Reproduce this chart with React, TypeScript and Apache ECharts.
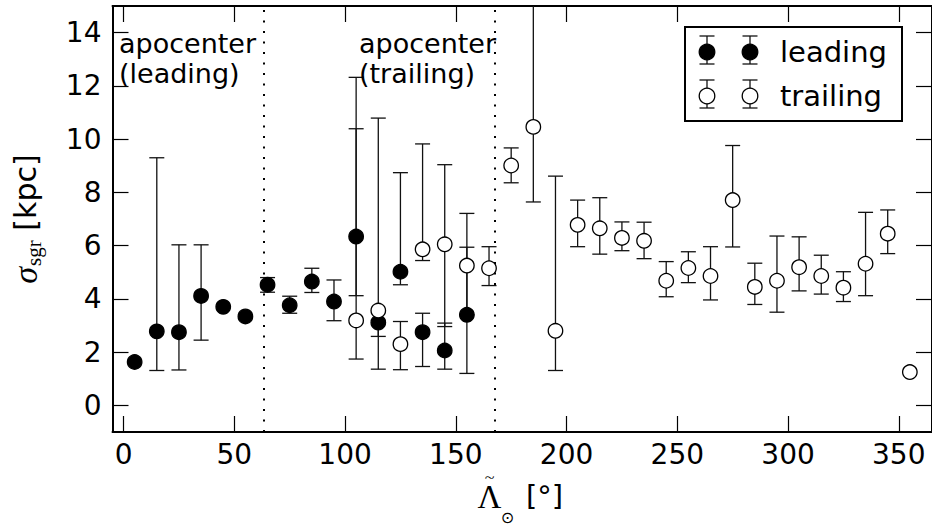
import React, { useEffect, useRef } from "react";
import * as echarts from "echarts";

// Stream longitude bins (deg) and fitted stream width sigma_sgr (kpc)
const lambdaLeading = [5, 15, 25, 35, 45, 55, 65, 75, 85, 95, 105, 115, 125, 135, 145, 155];
const sigmaLeading = [1.63, 2.78, 2.75, 4.11, 3.7, 3.34, 4.53, 3.76, 4.65, 3.9, 6.34, 3.11, 5.02, 2.75, 2.06, 3.4];
const lowLeading = [null, 1.31, 1.33, 2.45, null, null, 4.25, 3.46, 4.24, 3.18, 4.12, 2.59, 4.53, 1.46, 1.36, 1.2];
const highLeading = [null, 9.3, 6.03, 6.03, null, null, 4.8, 4.1, 5.15, 4.71, 10.39, 3.2, 8.74, 3.46, 3.09, 5.94];

const lambdaTrailing = [
  105, 115, 125, 135, 145, 155, 165, 175, 185, 195, 205, 215, 225, 235, 245, 255, 265, 275, 285, 295,
  305, 315, 325, 335, 345, 355,
];
const sigmaTrailing = [
  3.19, 3.56, 2.3, 5.86, 6.05, 5.25, 5.15, 9.01, 10.46, 2.8, 6.78, 6.65, 6.29, 6.18, 4.68, 5.16, 4.86,
  7.71, 4.45, 4.68, 5.19, 4.86, 4.42, 5.32, 6.45, 1.25,
];
const lowTrailing = [
  1.74, 1.36, 1.34, 5.44, 2.96, 3.4, 4.5, 8.36, 7.64, 1.31, 5.96, 5.68, 5.81, 5.51, 4.08, 4.61, 3.96,
  5.95, 3.79, 3.5, 4.3, 4.18, 3.9, 4.12, 5.7, null,
];
const highTrailing = [
  12.32, 10.79, 3.15, 9.82, 9.04, 7.21, 5.96, 9.67, 16.5, 8.61, 7.71, 7.8, 6.89, 6.88, 5.4, 5.77, 5.96,
  9.76, 5.34, 6.36, 6.33, 5.64, 5.02, 7.25, 7.34, null,
];

// Apocenter positions of the two arms (deg)
const apocenters = [63.1, 167.4];
const apocenterLabels = ["apocenter\n(leading)", "apocenter\n(trailing)"];

const xTicks = [0, 50, 100, 150, 200, 250, 300, 350];
const yTicks = [0, 2, 4, 6, 8, 10, 12, 14];
const legendNames = ["leading", "trailing"];

const SANS = "DejaVu Sans";
const SERIF = "Liberation Serif";
const CAP = 7.5;

function errorRows(xs: number[], lo: (number | null)[], hi: (number | null)[]) {
  const rows: number[][] = [];
  xs.forEach((x, i) => {
    const l = lo[i];
    const h = hi[i];
    if (l != null && h != null) rows.push([x, l, h]);
  });
  return rows;
}

function renderErrorBar(params: any, api: any) {
  const x = api.value(0);
  const pLo = api.coord([x, api.value(1)]);
  const pHi = api.coord([x, api.value(2)]);
  const cs = params.coordSys;
  const clipped = pHi[1] < cs.y;
  const yTop = clipped ? cs.y : pHi[1];
  const style = { stroke: "#111", lineWidth: 1.3 };
  const children: any[] = [
    { type: "line", shape: { x1: pLo[0], y1: pLo[1], x2: pLo[0], y2: yTop }, style },
    { type: "line", shape: { x1: pLo[0] - CAP, y1: pLo[1], x2: pLo[0] + CAP, y2: pLo[1] }, style },
  ];
  if (!clipped) {
    children.push({ type: "line", shape: { x1: pHi[0] - CAP, y1: pHi[1], x2: pHi[0] + CAP, y2: pHi[1] }, style });
  }
  return { type: "group", children };
}

function legendGraphics() {
  const box = { left: 685, top: 27, width: 217, height: 94 };
  const rows = [
    { cy: 50, fill: "#000", name: legendNames[0] },
    { cy: 94, fill: "#fff", name: legendNames[1] },
  ];
  const elems: any[] = [
    {
      type: "rect",
      shape: { x: box.left, y: box.top, width: box.width, height: box.height },
      style: { fill: "#fff", stroke: "#000", lineWidth: 2 },
      z: 100,
    },
  ];
  const lineStyle = { stroke: "#111", lineWidth: 1.3 };
  rows.forEach((r) => {
    [707, 750].forEach((cx) => {
      elems.push(
        { type: "line", shape: { x1: cx, y1: r.cy - 14, x2: cx, y2: r.cy + 14 }, style: lineStyle, z: 101 },
        { type: "line", shape: { x1: cx - CAP, y1: r.cy - 14, x2: cx + CAP, y2: r.cy - 14 }, style: lineStyle, z: 101 },
        { type: "line", shape: { x1: cx - CAP, y1: r.cy + 14, x2: cx + CAP, y2: r.cy + 14 }, style: lineStyle, z: 101 },
        {
          type: "circle",
          shape: { cx, cy: r.cy + 2, r: 7.8 },
          style: { fill: r.fill, stroke: "#000", lineWidth: 1.3 },
          z: 102,
        }
      );
    });
    elems.push({
      type: "text",
      x: 780,
      y: r.cy + 2,
      style: { text: r.name, font: `29px '${SANS}'`, fill: "#000", verticalAlign: "middle" },
      z: 102,
    });
  });
  return elems;
}

// x-axis title: Lambda with a tilde accent, a solar subscript and the unit
function xTitleGraphics() {
  return [
    {
      type: "text",
      x: 489.5,
      y: 497,
      style: { text: "Λ", font: `33px '${SERIF}'`, fill: "#000", align: "center", verticalAlign: "middle" },
    },
    {
      type: "text",
      x: 489.5,
      y: 478,
      scaleY: 0.8,
      style: { text: "~", font: `18px '${SERIF}'`, fill: "#000", align: "center", verticalAlign: "middle" },
    },
    {
      type: "text",
      x: 507.5,
      y: 517,
      style: { text: "⊙", font: `16px '${SANS}'`, fill: "#000", align: "center", verticalAlign: "middle" },
    },
    {
      type: "text",
      x: 526,
      y: 496,
      style: { text: "[°]", font: `29px '${SANS}'`, fill: "#000", align: "left", verticalAlign: "middle" },
    },
  ];
}

export default function App() {
  const ref = useRef<HTMLDivElement>(null);

  useEffect(() => {
    if (!ref.current) return;
    const chart = echarts.init(ref.current, undefined, { renderer: "svg" });

    const axisCommon = {
      type: "value" as const,
      splitLine: { show: false },
      axisLine: { show: true, onZero: false, lineStyle: { color: "#000", width: 2 } },
    };
    const tickStyle = { color: "#000", width: 1.2 };

    const annotations = apocenterLabels.map((t, i) => ({
      type: "text",
      x: i === 0 ? 119 : 359,
      y: 29,
      style: {
        text: t,
        font: `27px '${SANS}'`,
        fill: "#000",
        lineHeight: 29.5,
        verticalAlign: "top",
      },
      z: 50,
    }));

    chart.setOption({
      animation: false,
      backgroundColor: "#fff",
      grid: { left: 108, top: 6, width: 827, height: 426, containLabel: false },
      xAxis: [
        {
          ...axisCommon,
          position: "bottom",
          min: -5,
          max: 365,
          axisTick: { show: true, inside: true, length: 16, customValues: xTicks, lineStyle: tickStyle },
          axisLabel: {
            show: true,
            customValues: xTicks,
            margin: 8,
            color: "#000",
            fontFamily: SANS,
            fontSize: 28,
          },
        },
        {
          ...axisCommon,
          position: "top",
          min: -5,
          max: 365,
          axisTick: { show: true, inside: true, length: 16, customValues: xTicks, lineStyle: tickStyle },
          axisLabel: { show: false },
        },
      ],
      yAxis: [
        {
          ...axisCommon,
          position: "left",
          min: -1,
          max: 15,
          axisTick: { show: true, inside: true, length: 16, customValues: yTicks, lineStyle: tickStyle },
          axisLabel: {
            show: true,
            customValues: yTicks,
            margin: 11,
            color: "#000",
            fontFamily: SANS,
            fontSize: 28,
          },
          name: "{s|σ}{sub|sgr}{u| [kpc]}",
          nameLocation: "middle",
          nameRotate: 90,
          nameGap: 68,
          nameTextStyle: {
            rich: {
              s: { fontFamily: SERIF, fontStyle: "italic", fontSize: 34, color: "#000" },
              sub: { fontFamily: SERIF, fontSize: 21, color: "#000", padding: [18, 0, 0, 1] },
              u: { fontFamily: SANS, fontSize: 30, color: "#000" },
            },
          },
        },
        {
          ...axisCommon,
          position: "right",
          min: -1,
          max: 15,
          axisTick: { show: true, inside: true, length: 16, customValues: yTicks, lineStyle: tickStyle },
          axisLabel: { show: false },
        },
      ],
      series: [
        {
          type: "custom",
          name: "leading-err",
          renderItem: renderErrorBar,
          data: errorRows(lambdaLeading, lowLeading, highLeading),
          encode: { x: 0, y: [1, 2] },
          silent: true,
          z: 3,
        },
        {
          type: "scatter",
          name: legendNames[0],
          data: lambdaLeading.map((x, i) => [x, sigmaLeading[i]]),
          symbol: "circle",
          symbolSize: 14.5,
          itemStyle: { color: "#000", borderColor: "#000", borderWidth: 1.3, opacity: 1 },
          silent: true,
          z: 3,
          markLine: {
            symbol: "none",
            silent: true,
            label: { show: false },
            lineStyle: { color: "#000", width: 2, type: [2, 8.5] },
            data: apocenters.map((a) => ({ xAxis: a })),
          },
        },
        {
          type: "custom",
          name: "trailing-err",
          renderItem: renderErrorBar,
          data: errorRows(lambdaTrailing, lowTrailing, highTrailing),
          encode: { x: 0, y: [1, 2] },
          silent: true,
          z: 3,
        },
        {
          type: "scatter",
          name: legendNames[1],
          data: lambdaTrailing.map((x, i) => [x, sigmaTrailing[i]]),
          symbol: "circle",
          symbolSize: 14.5,
          itemStyle: { color: "#fff", borderColor: "#000", borderWidth: 1.3, opacity: 1 },
          silent: true,
          z: 3,
        },
      ],
      graphic: [...annotations, ...legendGraphics(), ...xTitleGraphics()],
    });

    return () => chart.dispose();
  }, []);

  return (
    <div
      ref={ref}
      style={{ position: "fixed", left: 0, top: 0, width: 932, height: 525, background: "#fff" }}
    />
  );
}
